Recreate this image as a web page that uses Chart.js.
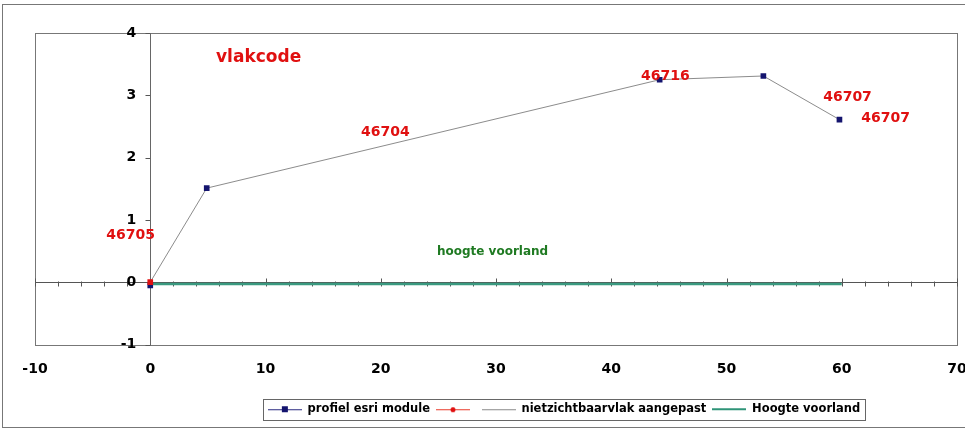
<!DOCTYPE html>
<html>
<head>
<meta charset="utf-8">
<script src="https://cdn.jsdelivr.net/npm/chart.js@4.4.0/dist/chart.umd.min.js"></script>
<style>
  html, body { margin: 0; padding: 0; background: #fff; }
  #wrap { width: 965px; height: 430px; position: relative; }
</style>
</head>
<body>
<div id="wrap"><canvas id="chart"></canvas></div>
<script>
// profile points (afstand / hoogte)
const profielX = [0, 4.9, 44.2, 53.2, 59.8];
const profielY = [-0.05, 1.51, 3.25, 3.31, 2.61];
const vlakX = [0, 4.9, 44.2, 53.2, 59.8];
const vlakY = [0, 1.51, 3.25, 3.31, 2.61];
const redX = [0];
const redY = [0];
const voorlandX = [0, 60];
const voorlandY = [-0.03, -0.03];

// vlakcode labels
const codeLabels = ['46705', '46704', '46716', '46707', '46707'];
const codeX = [-1.7, 20.4, 44.7, 60.5, 63.8];
const codeY = [0.75, 2.41, 3.30, 2.96, 2.63];

const seriesNames = ['profiel esri module', '', 'nietzichtbaarvlak aangepast', 'Hoogte voorland'];

const FONT = 'DejaVu Sans';

function pts(xs, ys) {
  return xs.map((x, i) => ({ x: x, y: ys[i] }));
}

// little line+marker pictures for the legend
function legendIcon(color, width, marker, markerColor) {
  const c = document.createElement('canvas');
  c.width = 34; c.height = 10;
  const g = c.getContext('2d');
  g.fillStyle = color;
  g.fillRect(0, width > 1 ? 4 : 5, 34, width);
  g.fillStyle = markerColor;
  if (marker === 'rect') g.fillRect(14, 2, 6, 6);
  if (marker === 'circle') { g.beginPath(); g.arc(17, 5.5, 2.5, 0, Math.PI * 2); g.fill(); }
  return c;
}
const icons = [
  legendIcon('#2a2a80', 1, 'rect', '#14146e'),
  legendIcon('#e83a2a', 1, 'circle', '#e01010'),
  legendIcon('#888', 1, null, null),
  legendIcon('#2f9478', 2, null, null)
];

const extras = {
  id: 'extras',
  afterLayout(chart) {
    // legend sits right of centre in the original
    const lg = chart.legend;
    const shift = Math.round(564 - (lg.left + lg.right) / 2);
    lg.left += shift;
    lg.right += shift;
  },
  beforeDraw(chart) {
    const { ctx, chartArea: a } = chart;
    ctx.save();
    ctx.fillStyle = '#fff';
    ctx.fillRect(0, 0, chart.width, chart.height);
    ctx.strokeStyle = '#777';
    ctx.lineWidth = 1;
    ctx.strokeRect(2.5, 4.5, 980, 423);
    ctx.strokeRect(Math.round(a.left) + 0.5, Math.round(a.top) + 0.5, Math.round(a.right - a.left), Math.round(a.bottom - a.top));
    const xs = chart.scales.x, ys = chart.scales.y;
    // x axis crossing at 0
    const y0 = Math.round(ys.getPixelForValue(0)) + 0.5;
    ctx.strokeStyle = '#555';
    ctx.beginPath(); ctx.moveTo(a.left, y0); ctx.lineTo(a.right, y0); ctx.stroke();
    for (let v = -10; v <= 70; v += 2) {
      const px = Math.round(xs.getPixelForValue(v)) + 0.5;
      ctx.beginPath();
      if (v % 10 === 0) { ctx.moveTo(px, y0 - 4); ctx.lineTo(px, y0 + 4); }
      else { ctx.moveTo(px, y0 - 1); ctx.lineTo(px, y0 + 4); }
      ctx.stroke();
    }
    // y axis ticks at x = 0
    const x0 = Math.round(xs.getPixelForValue(0)) + 0.5;
    for (let v = -1; v <= 4; v++) {
      const py = Math.round(ys.getPixelForValue(v)) + 0.5;
      ctx.beginPath(); ctx.moveTo(x0 - 5, py); ctx.lineTo(x0, py); ctx.stroke();
    }
    ctx.restore();
  },
  afterDatasetsDraw(chart) {
    const { ctx } = chart;
    const xs = chart.scales.x, ys = chart.scales.y;
    ctx.save();
    ctx.textAlign = 'center';
    ctx.textBaseline = 'middle';
    ctx.fillStyle = '#e01010';
    ctx.font = 'bold 14px "' + FONT + '"';
    codeLabels.forEach((t, i) => {
      ctx.fillText(t, xs.getPixelForValue(codeX[i]), ys.getPixelForValue(codeY[i]));
    });
    ctx.font = 'bold 17px "' + FONT + '"';
    ctx.fillText('vlakcode', xs.getPixelForValue(9.4), ys.getPixelForValue(3.6));
    ctx.fillStyle = '#1f7a22';
    ctx.font = 'bold 12px "' + FONT + '"';
    ctx.fillText('hoogte voorland', xs.getPixelForValue(29.7), ys.getPixelForValue(0.48));
    ctx.restore();
  },
  afterDraw(chart) {
    const boxes = chart.legend.legendHitBoxes;
    if (!boxes || !boxes.length) return;
    const ctx = chart.ctx;
    const left = Math.min(...boxes.map(b => b.left)) - 5;
    const right = Math.max(...boxes.map(b => b.left + b.width)) + 5;
    const top = boxes[0].top - 5;
    const h = boxes[0].height + 9;
    ctx.save();
    ctx.strokeStyle = '#666';
    ctx.lineWidth = 1;
    ctx.strokeRect(Math.round(left) + 0.5, Math.round(top) + 0.5, Math.round(right - left), Math.round(h));
    ctx.restore();
  }
};

new Chart(document.getElementById('chart'), {
  type: 'scatter',
  data: {
    datasets: [
      {
        label: seriesNames[0],
        data: pts(profielX, profielY),
        showLine: false,
        pointStyle: 'rect',
        pointRadius: 4,
        backgroundColor: '#14146e',
        borderColor: '#14146e',
        borderWidth: 0,
        order: 1
      },
      {
        label: seriesNames[1],
        data: pts(redX, redY),
        showLine: false,
        pointStyle: 'rect',
        pointRadius: 4,
        backgroundColor: '#e01010',
        borderColor: '#e01010',
        borderWidth: 0,
        order: 0
      },
      {
        label: seriesNames[2],
        data: pts(vlakX, vlakY),
        showLine: true,
        pointRadius: 0,
        borderColor: '#8c8c8c',
        borderWidth: 1,
        order: 2
      },
      {
        label: seriesNames[3],
        data: pts(voorlandX, voorlandY),
        showLine: true,
        pointRadius: 0,
        borderColor: '#3a9a80',
        borderWidth: 2.5,
        order: 3
      }
    ]
  },
  options: {
    responsive: true,
    maintainAspectRatio: false,
    animation: false,
    layout: { padding: { left: 35, right: 8, top: 33, bottom: 5 } },
    scales: {
      x: {
        type: 'linear',
        position: 'bottom',
        min: -10,
        max: 70,
        ticks: { stepSize: 10, color: '#000', padding: 16, font: { family: FONT, weight: 'bold', size: 14 } },
        grid: { display: false, drawTicks: false },
        border: { display: false },
        afterFit: s => { s.paddingLeft = 0; s.paddingRight = 0; s.height = 53; }
      },
      y: {
        type: 'linear',
        position: { x: 0 },
        min: -1,
        max: 4,
        ticks: {
          stepSize: 1, color: '#000', font: { family: FONT, weight: 'bold', size: 14 },
          callback: v => v + '\u2002\u2002'
        },
        grid: { display: false },
        border: { color: '#666' }
      }
    },
    plugins: {
      tooltip: { enabled: false },
      legend: {
        position: 'bottom',
        labels: {
          usePointStyle: true,
          pointStyleWidth: 34,
          padding: 6,
          color: '#000',
          font: { family: FONT, weight: 'bold', size: 11.5 },
          generateLabels: chart => chart.data.datasets.map((d, i) => ({
            text: d.label,
            pointStyle: icons[i],
            fillStyle: 'transparent',
            strokeStyle: 'transparent',
            lineWidth: 0,
            hidden: false,
            datasetIndex: i,
            fontColor: '#000'
          }))
        }
      }
    }
  },
  plugins: [extras]
});
</script>
</body>
</html>
